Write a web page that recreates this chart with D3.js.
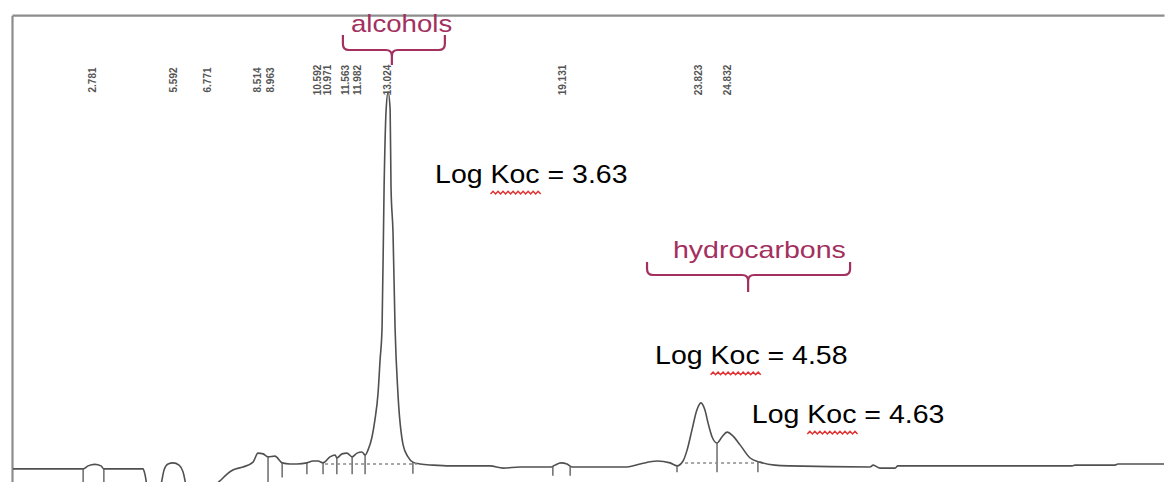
<!DOCTYPE html>
<html>
<head>
<meta charset="utf-8">
<script src="https://cdn.jsdelivr.net/npm/d3@7"></script>
<style>
  html, body { margin: 0; padding: 0; background: #fff; }
  svg { display: block; }
</style>
</head>
<body>
<svg id="chart" width="1165" height="482"></svg>
<script>
// ---- data (retention time in minutes, detector signal in arbitrary units) ----
const traceTime = [0, 2.47, 2.64, 2.88, 3.09, 3.19, 4.55, 4.62, 4.70, 4.95, 5.12, 5.17, 5.28, 5.42, 5.59, 5.80, 5.94, 6.04, 6.20, 6.60, 7.00, 7.08,
  7.29, 7.67, 8.02, 8.37, 8.54, 8.72, 8.89, 9.13, 9.38, 9.65, 9.90, 10.24, 10.45, 10.63, 10.80, 11.04, 11.22, 11.28, 11.46, 11.63,
  11.81, 11.98, 12.15, 12.26, 12.36, 12.50, 12.60, 12.71, 12.78, 12.85, 12.92, 12.99, 13.06, 13.13, 13.16, 13.23, 13.30, 13.40,
  13.58, 13.75, 13.92, 14.17, 14.62, 15.21, 16.60, 17.05, 17.64, 18.72, 18.85, 19.06, 19.27, 19.44, 21.35, 21.81, 22.40, 22.85,
  23.09, 23.30, 23.44, 23.61, 23.78, 23.92, 24.06, 24.17, 24.31, 24.48, 24.65, 24.83, 25.03, 25.28, 25.63, 25.97, 26.49, 27.01,
  29.79, 29.90, 30.14, 30.66, 30.76, 36.81, 36.91, 38.30, 38.40, 40.0];
const traceSignal = [-0.5, -0.5, 0.3, 0.7, 0.3, -0.5, -0.5, -2.1, -5.5, -9, -6, -4.8, -0.8, 0.8, 1.1, 0.5, -1.3, -4.8, -9, -10, -8, -5.1,
  -3.2, -0.8, 0, 1.3, 3.7, 3.5, 2.7, 2.9, 1.1, 0.8, 0.8, 1.1, 1.6, 1.6, 1.1, 2.7, 3.2, 2.4, 3.5, 3.7,
  2.7, 3.7, 4.0, 3.2, 4.5, 8.0, 12.5, 19.7, 28.5, 37.3, 74.7, 95.2, 100, 95.2, 74.7, 62.4, 37.3, 19.7,
  5.9, 2.7, 1.3, 0.8, 0.5, 0.3, 0.3, -0.3, 0, 0, 0.5, 1.1, 0.8, 0, 0, 0.8, 1.6, 1.1,
  0.3, 1.6, 4.5, 9.9, 15.2, 17.1, 15.2, 11.7, 8.0, 6.4, 8.0, 9.3, 8.3, 5.9, 2.4, 1.3, 0.5, 0.3,
  0, 0.5, -0.3, -0.3, 0.3, 0.3, 0.5, 0.5, 0.8, 0.8];

// peak retention-time labels printed at the top of the chromatogram
const peakTimes = [2.781, 5.592, 6.771, 8.514, 8.963, 10.592, 10.971, 11.563, 11.982, 13.024, 19.131, 23.823, 24.832];

// integration tick marks (time, lower end of tick)
const tickTimes = [2.47, 3.19, 8.89, 9.38, 10.24, 10.80, 11.28, 11.81, 12.26, 13.92, 18.78, 19.38, 23.09, 24.48, 25.90];
const tickEnds  = [-4.5, -4.5, -4.5, -2.8, -1.9, -1.9, -1.9, -1.9, -1.9, -1.8, -2.3, -2.3, -1.4, -1.4, -1.4];

// dashed drop baselines
const dashStart = [10.87, 23.37];
const dashEnd   = [14.06, 25.87];
const dashLevel = [0.8, 1.07];

// annotations
const groupNames  = ["alcohols", "hydrocarbons"];
const groupTextT  = [11.77, 22.95];
const groupTextV  = [116.0, 55.7];
const groupScale  = [1.15, 1.19];
const braceStart  = [11.49, 22.05];
const braceEnd    = [15.03, 29.10];
const braceMid    = [13.19, 25.56];
const braceTopV   = [115.2, 54.7];
const braceBarV   = [111.2, 51.2];
const braceTipV   = [107.2, 46.7];

const kocValues = ["3.63", "4.58", "4.63"];
const kocT      = [14.69, 22.33, 25.69];
const kocV      = [75.7, 27.5, 11.7];

// ---- scales ----
const x = d3.scaleLinear().domain([0, 40]).range([12, 1164]);
const y = d3.scaleLinear().domain([0, 100]).range([467, 92]);

const svg = d3.select("#chart");
const FONT = "'Liberation Sans', Arial, sans-serif";
const ANN = "#a3305f";

// frame via axes without ticks
svg.append("g").attr("transform", `translate(0,${y(120.5)})`)
  .call(d3.axisTop(x).tickValues([]).tickSizeOuter(0))
  .call(g => g.select(".domain").attr("stroke", "#8c8c8c").attr("stroke-width", 2.2));
svg.append("g").attr("transform", `translate(${x(0)},0)`)
  .call(d3.axisLeft(d3.scaleLinear().domain([-4, 120.5]).range([y(-4.2), y(120.5)])).tickValues([]).tickSizeOuter(0))
  .call(g => g.select(".domain").attr("stroke", "#8c8c8c").attr("stroke-width", 2.2));

// chromatogram trace
const pts = traceTime.map((t, i) => [t, traceSignal[i]]);
svg.append("defs").append("clipPath").attr("id", "clip")
  .append("rect").attr("x", 13).attr("y", 16).attr("width", 1152).attr("height", 466);
const plot = svg.append("g").attr("clip-path", "url(#clip)");

plot.append("path")
  .datum(pts)
  .attr("fill", "none")
  .attr("stroke", "#505050")
  .attr("stroke-width", 1.6)
  .attr("d", d3.line().x(d => x(d[0])).y(d => y(d[1])).curve(d3.curveMonotoneX));

// interpolate trace value at t (for tick tops)
function valueAt(t) {
  const i = d3.bisector(d => d).right(traceTime, t);
  if (i <= 0) return traceSignal[0];
  if (i >= traceTime.length) return traceSignal[traceSignal.length - 1];
  const t0 = traceTime[i - 1], t1 = traceTime[i];
  const f = (t - t0) / (t1 - t0);
  return traceSignal[i - 1] + f * (traceSignal[i] - traceSignal[i - 1]);
}

plot.selectAll("line.tick")
  .data(tickTimes)
  .join("line")
  .attr("class", "tick")
  .attr("x1", d => x(d)).attr("x2", d => x(d))
  .attr("y1", d => y(valueAt(d)))
  .attr("y2", (d, i) => y(tickEnds[i]))
  .attr("stroke", "#606060").attr("stroke-width", 1.4);

plot.selectAll("line.dash")
  .data(dashStart)
  .join("line")
  .attr("class", "dash")
  .attr("x1", d => x(d))
  .attr("x2", (d, i) => x(dashEnd[i]))
  .attr("y1", (d, i) => y(dashLevel[i]))
  .attr("y2", (d, i) => y(dashLevel[i]))
  .attr("stroke", "#8a8a8a").attr("stroke-width", 1.3)
  .attr("stroke-dasharray", "3,3");

// peak labels (rotated)
svg.selectAll("text.peak")
  .data(peakTimes)
  .join("text")
  .attr("class", "peak")
  .attr("transform", d => `translate(${x(d)},80) rotate(-90)`)
  .attr("text-anchor", "middle")
  .attr("dominant-baseline", "central")
  .attr("font-family", FONT)
  .attr("font-size", 10)
  .attr("font-weight", "bold")
  .attr("fill", "#555")
  .text(d => d.toFixed(3));

// group annotations with braces
groupNames.forEach((name, i) => {
  svg.append("text")
    .attr("transform", `translate(${x(groupTextT[i])},${y(groupTextV[i])}) scale(${groupScale[i]},1)`)
    .attr("font-family", FONT)
    .attr("font-size", 24)
    .attr("fill", ANN)
    .text(name);
  const xs = x(braceStart[i]), xe = x(braceEnd[i]), xm = x(braceMid[i]);
  const yt = y(braceTopV[i]), yb = y(braceBarV[i]), ytip = y(braceTipV[i]);
  const r = 6;
  const p = d3.path();
  p.moveTo(xs, yt);
  p.lineTo(xs, yb - r);
  p.quadraticCurveTo(xs, yb, xs + r, yb);
  p.lineTo(xm - r, yb);
  p.quadraticCurveTo(xm, yb, xm, yb + r);
  p.lineTo(xm, ytip);
  p.moveTo(xm, yb + r);
  p.quadraticCurveTo(xm, yb, xm + r, yb);
  p.lineTo(xe - r, yb);
  p.quadraticCurveTo(xe, yb, xe, yb - r);
  p.lineTo(xe, yt);
  svg.append("path").attr("d", p.toString())
    .attr("fill", "none").attr("stroke", ANN).attr("stroke-width", 2.2);
});

// Log Koc annotations with spell-check squiggle under "Koc"
kocValues.forEach((v, i) => {
  const g = svg.append("g")
    .attr("transform", `translate(${x(kocT[i])},${y(kocV[i])}) scale(1.14,1)`);
  const t = g.append("text")
    .attr("font-family", FONT)
    .attr("font-size", 25)
    .attr("fill", "#000")
    .attr("xml:space", "preserve")
    .text(`Log Koc = ${v}`);
  const node = t.node();
  const s0 = node.getSubStringLength(0, 4);
  const sw = node.getSubStringLength(4, 3);
  const pts2 = [];
  for (let k = 0; k <= Math.round(sw / 2.2); k++) {
    pts2.push([s0 + k * 2.2, 9.5 + (k % 2 ? -1.4 : 1.4)]);
  }
  g.append("path")
    .attr("d", d3.line()(pts2))
    .attr("fill", "none")
    .attr("stroke", "#e03232")
    .attr("stroke-width", 1.3);
});
</script>
</body>
</html>
